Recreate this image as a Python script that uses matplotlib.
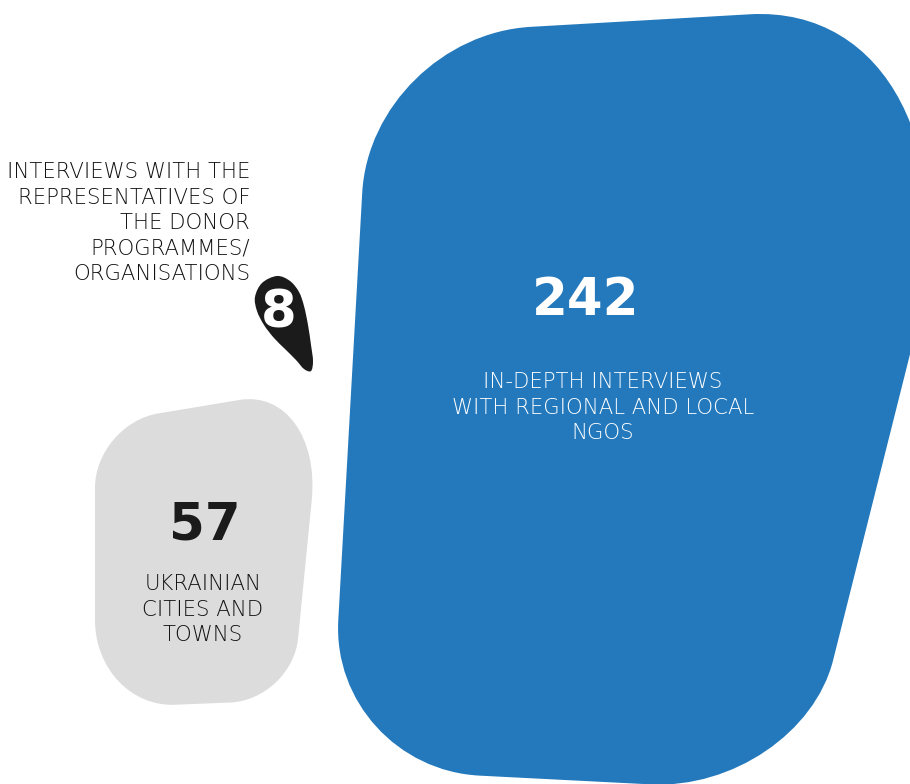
import numpy as np
import matplotlib
matplotlib.use('Agg')
import matplotlib.pyplot as plt
from matplotlib.path import Path
from matplotlib.patches import PathPatch

# values and their captions
values = [242, 57, 8]
captions = [
    ['IN-DEPTH INTERVIEWS', 'WITH REGIONAL AND LOCAL', 'NGOS'],
    ['UKRAINIAN', 'CITIES AND', 'TOWNS'],
    ['INTERVIEWS WITH THE', 'REPRESENTATIVES OF', 'THE DONOR', 'PROGRAMMES/', 'ORGANISATIONS'],
]
colors = ['#2379bc', '#dcdcdc', '#1b1b1b']
number_colors = ['white', '#1b1b1b', 'white']
caption_colors = ['white', '#111111', '#111111']


# blob shape: rounded polygon, each corner has (vertex, r_prev, r_next)
def rounded_poly(corners, k=0.55):
    n = len(corners)
    pts = []
    for i in range(n):
        v = np.array(corners[i][0], float)
        vp = np.array(corners[i - 1][0], float)
        vn = np.array(corners[(i + 1) % n][0], float)
        a = v + corners[i][1] * (vp - v) / np.linalg.norm(vp - v)
        b = v + corners[i][2] * (vn - v) / np.linalg.norm(vn - v)
        pts.append((a, v, b))
    verts = [pts[0][2]]
    codes = [Path.MOVETO]
    for i in range(1, n + 1):
        a, v, b = pts[i % n]
        verts += [a, a + k * (v - a), b + k * (v - b), b]
        codes += [Path.LINETO, Path.CURVE4, Path.CURVE4, Path.CURVE4]
    verts.append(verts[0])
    codes.append(Path.CLOSEPOLY)
    return Path(verts, codes)


# closed catmull-rom spline through points
def smooth_closed(points):
    p = np.array(points, float)
    n = len(p)
    verts = [p[0]]
    codes = [Path.MOVETO]
    for i in range(n):
        p0, p1, p2, p3 = p[i - 1], p[i], p[(i + 1) % n], p[(i + 2) % n]
        verts += [p1 + (p2 - p0) / 6, p2 - (p3 - p1) / 6, p2]
        codes += [Path.CURVE4] * 3
    return Path(verts, codes)


blue_shape = rounded_poly([((371, 36), 157, 160), ((999, 0), 250, 345),
                           ((800, 792), 136, 150), ((330, 768), 150, 148)])
gray_shape = rounded_poly([((95, 424), 64, 64), ((323, 386), 85, 115),
                           ((292, 700), 62, 62), ((95, 708), 80, 88)])
black_shape = smooth_closed([(277, 276), (290, 281), (299, 292), (304, 306), (308, 325),
                             (311, 345), (313, 361), (311, 371), (304, 369), (296, 360),
                             (285, 349), (274, 338), (264, 325), (257, 311), (255, 297),
                             (262, 283)])

fig = plt.figure(figsize=(9.1, 7.84), dpi=100)
ax = fig.add_axes([0, 0, 1, 1])
ax.set_xlim(0, 910)
ax.set_ylim(784, 0)
ax.axis('off')

for shape, c in zip([blue_shape, gray_shape, black_shape], colors):
    ax.add_patch(PathPatch(shape, facecolor=c, edgecolor='none'))

# big numbers (x centre, baseline)
num_pos = [(586, 315), (205, 540), (279, 327)]
for v, (x, y), c in zip(values, num_pos, number_colors):
    ax.text(x, y, str(v), ha='center', va='baseline', fontsize=37,
            fontweight='bold', color=c, family='DejaVu Sans')

# captions (x, first baseline, alignment)
cap_pos = [(603, 388, 'center'), (203, 590, 'center'), (250, 178, 'right')]
for lines, (x, y0, ha), c in zip(captions, cap_pos, caption_colors):
    for i, line in enumerate(lines):
        ax.text(x, y0 + i * 25.5, line, ha=ha, va='baseline', fontsize=15.3,
                fontweight=200, color=c, family='DejaVu Sans')

fig.savefig('out.png', dpi=100)
